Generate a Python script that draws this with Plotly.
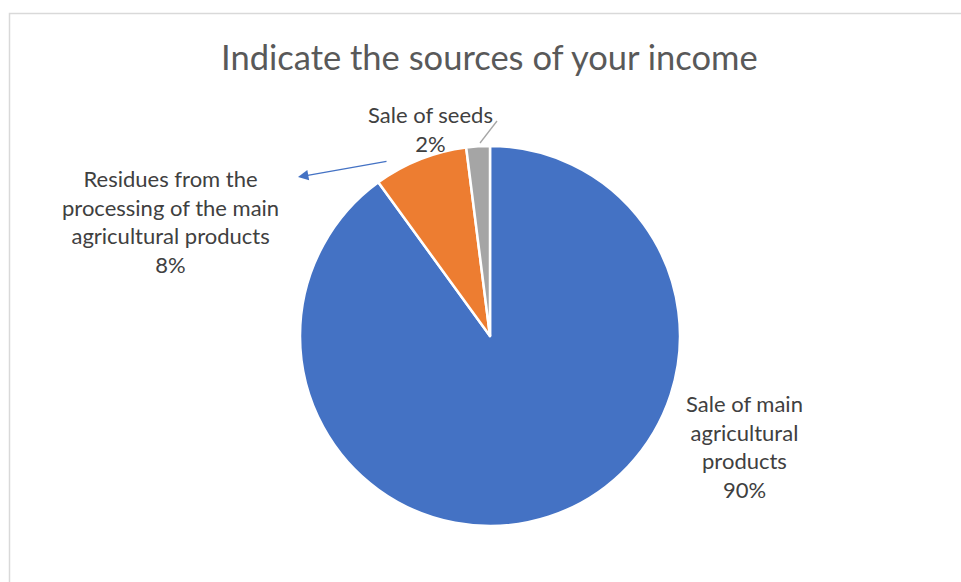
import plotly.graph_objects as go

# Income sources survey
categories = ["Sale of main agricultural products",
              "Residues from the processing of the main agricultural products",
              "Sale of seeds"]
label_lines = ["Sale of main<br>agricultural<br>products",
               "Residues from the<br>processing of the main<br>agricultural products",
               "Sale of seeds"]
shares = [90, 8, 2]
colors = ["#4472C4", "#ED7D31", "#A5A5A5"]

W, H = 961, 582
total = sum(shares)
pct = [f"{round(v / total * 100)}%" for v in shares]


def px(x):
    return x / W


def py(y):
    return 1 - y / H


fig = go.Figure(go.Pie(
    labels=categories,
    values=shares,
    sort=False,
    direction="clockwise",
    rotation=0,
    marker=dict(colors=colors, line=dict(color="white", width=2.5)),
    textinfo="none",
    hoverinfo="label+percent",
    showlegend=False,
    domain=dict(x=[px(300), px(680)], y=[py(526), py(146)]),
))

label_font = dict(family="Lato, Open Sans, sans-serif", size=22, color="#404040")

annotations = [
    dict(text="Indicate the sources of your income", x=px(489), y=py(57),
         xref="paper", yref="paper", showarrow=False, xanchor="center", yanchor="middle",
         font=dict(family="Lato, Open Sans, sans-serif", size=34.5, color="#595959")),
    # data labels
    dict(text=f"{label_lines[0]}<br>{pct[0]}", x=px(744), y=py(446),
         xref="paper", yref="paper", showarrow=False, xanchor="center", yanchor="middle",
         font=label_font),
    dict(text=f"{label_lines[1]}<br>{pct[1]}", x=px(170), y=py(221),
         xref="paper", yref="paper", showarrow=False, xanchor="center", yanchor="middle",
         font=label_font),
    dict(text=f"{label_lines[2]}<br>{pct[2]}", x=px(430), y=py(129),
         xref="paper", yref="paper", showarrow=False, xanchor="center", yanchor="middle",
         font=label_font),
    # leader arrow for the residues label
    dict(text="", x=px(298), y=py(177), xref="paper", yref="paper",
         ax=388 - 298, ay=161 - 177, axref="pixel", ayref="pixel",
         showarrow=True, arrowhead=2, arrowsize=1.6, arrowwidth=1.3,
         arrowcolor="#4472C4"),
]

shapes = [
    # chart frame
    dict(type="rect", xref="paper", yref="paper",
         x0=px(9.5), x1=px(W + 20), y0=py(H + 20), y1=py(13.5),
         line=dict(color="#D9D9D9", width=1.5), fillcolor="rgba(0,0,0,0)", layer="below"),
    # leader line for the seeds label
    dict(type="line", xref="paper", yref="paper",
         x0=px(480), y0=py(143), x1=px(497), y1=py(121),
         line=dict(color="#A6A6A6", width=1.3)),
]

fig.update_layout(
    width=W, height=H,
    margin=dict(l=0, r=0, t=0, b=0),
    paper_bgcolor="white",
    plot_bgcolor="white",
    annotations=annotations,
    shapes=shapes,
)

fig.write_html("out.html")
